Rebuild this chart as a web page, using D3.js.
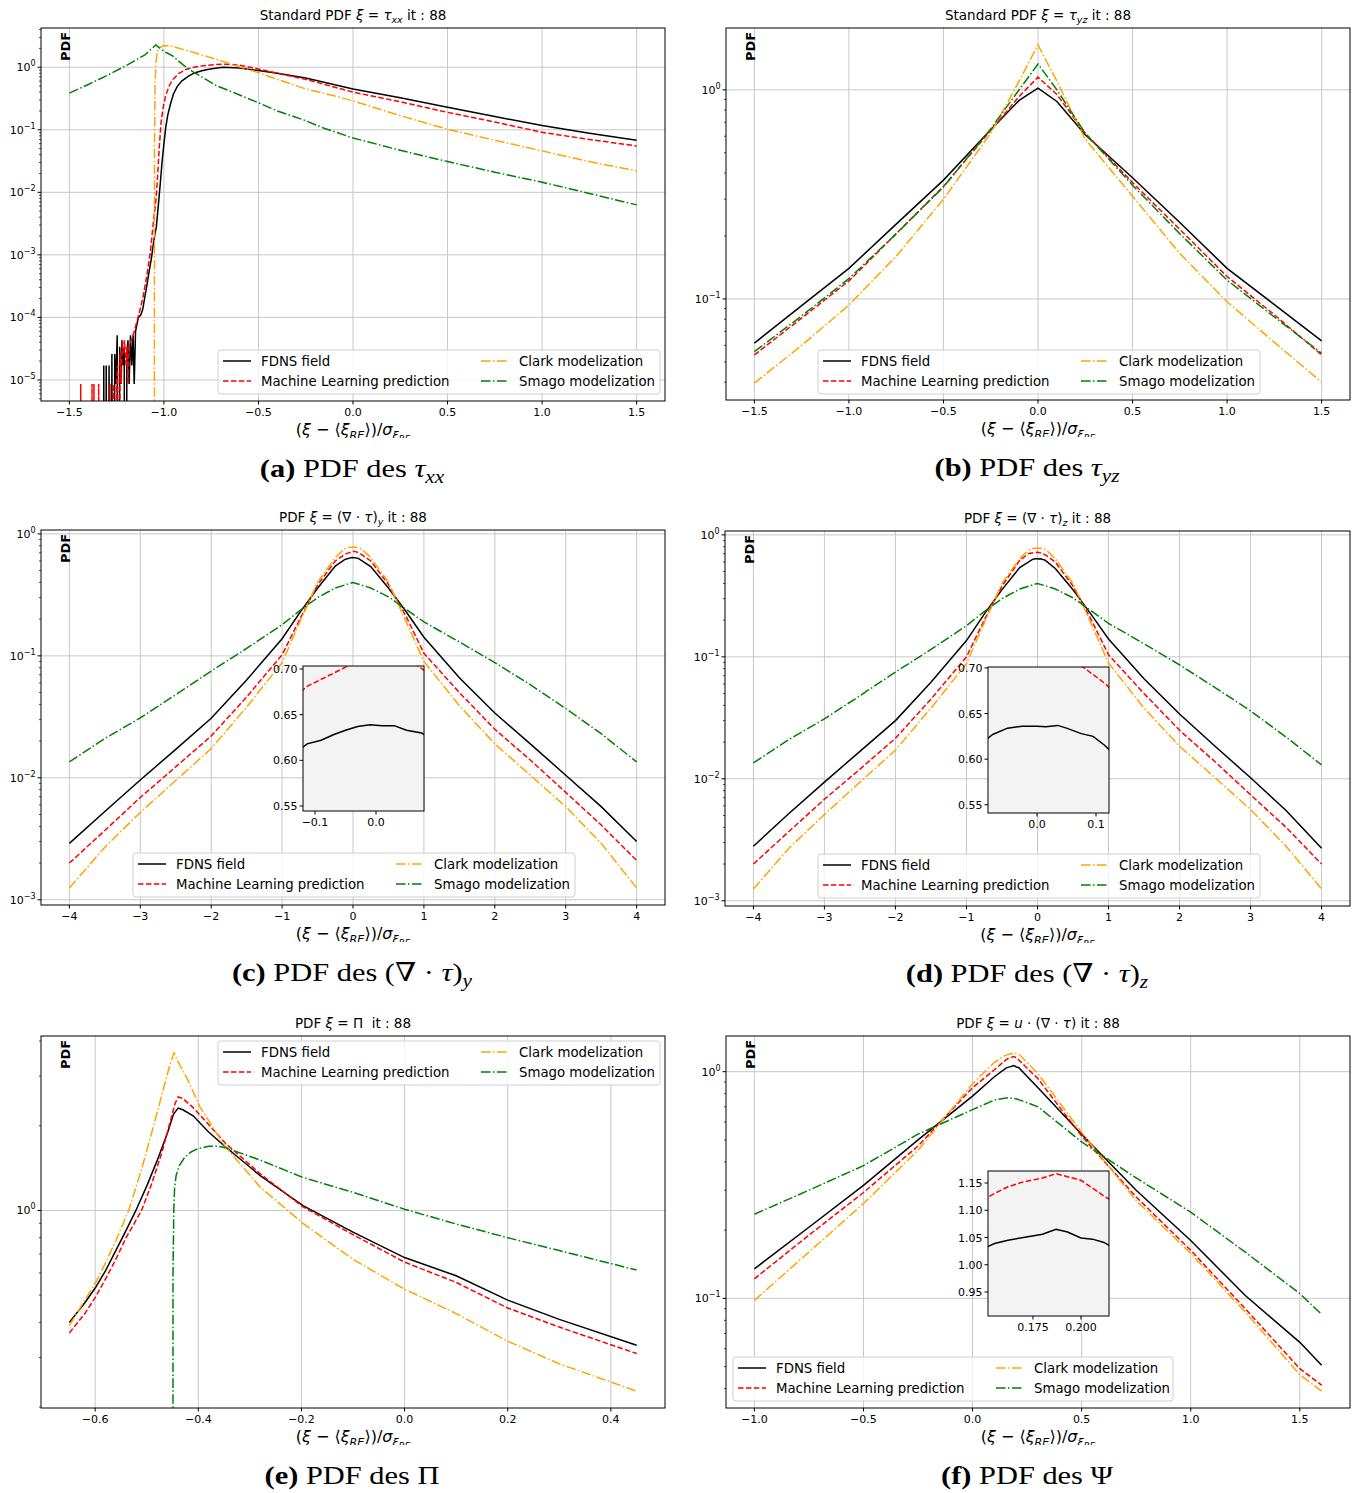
<!DOCTYPE html>
<html><head><meta charset="utf-8">
<script src="https://cdn.jsdelivr.net/npm/d3@7"></script>
<style>body{margin:0;background:#fff}svg{display:block}</style>
</head><body>
<svg id="fig" width="1360" height="1493"></svg>
<script>
// ---------------- DATA ----------------
const seriesLabels = ["FDNS field","Machine Learning prediction","Clark modelization","Smago modelization"];

// (a) tau_xx
const tauxxFDNS = [[-1.325,0],[-1.318,1.7e-5],[-1.312,0],[-1.305,1.7e-5],[-1.298,0],[-1.29,1.7e-5],[-1.283,0],[-1.275,2.6e-5],[-1.268,0],[-1.26,2.6e-5],[-1.254,8.6e-6],[-1.247,5.2e-5],[-1.241,0],[-1.234,3.4e-5],[-1.228,8.6e-6],[-1.222,4.3e-5],[-1.216,1.7e-5],[-1.21,3.4e-5],[-1.203,0],[-1.196,2.6e-5],[-1.19,4.3e-5],[-1.184,8.6e-6],[-1.177,5.2e-5],[-1.17,1.7e-5],[-1.163,5.2e-5],[-1.157,8.6e-6],[-1.15,6.0e-5],[-1.135,1.0e-4],[-1.122,1.1e-4],[-1.112,1.35e-4],[-1.1,2.2e-4],[-1.089,3.4e-4],[-1.078,5.5e-4],[-1.066,8.9e-4],[-1.057,1.4e-3],[-1.048,2.1e-3],[-1.04,2.8e-3],[-1.03,6e-3],[-1.02,0.013],[-1.01,0.03],[-1.0,0.06],[-0.99,0.11],[-0.98,0.17],[-0.965,0.26],[-0.95,0.37],[-0.93,0.49],[-0.906,0.6],[-0.87,0.72],[-0.838,0.81],[-0.8,0.88],[-0.769,0.92],[-0.72,0.97],[-0.685,1.0],[-0.6,0.97],[-0.5,0.885],[-0.4,0.8],[-0.25,0.67],[0,0.45],[0.25,0.325],[0.5,0.23],[0.75,0.163],[1.0,0.117],[1.25,0.088],[1.5,0.068]];
const tauxxML = [[-1.445,0],[-1.44,8.6e-6],[-1.435,0],[-1.385,0],[-1.38,8.6e-6],[-1.375,0],[-1.37,8.6e-6],[-1.365,0],[-1.35,0],[-1.345,8.6e-6],[-1.34,0],[-1.29,0],[-1.285,8.6e-6],[-1.28,0],[-1.265,8.6e-6],[-1.26,0],[-1.25,8.6e-6],[-1.245,1.7e-5],[-1.24,0],[-1.232,2.6e-5],[-1.226,8.6e-6],[-1.22,4.3e-5],[-1.214,2.6e-5],[-1.208,4.3e-5],[-1.2,1.7e-5],[-1.195,3.4e-5],[-1.19,8.6e-6],[-1.185,3.4e-5],[-1.18,3.7e-5],[-1.157,6e-5],[-1.135,1.05e-4],[-1.112,2e-4],[-1.089,4.9e-4],[-1.071,1.15e-3],[-1.055,3.5e-3],[-1.043,7.2e-3],[-1.035,0.015],[-1.025,0.05],[-1.015,0.13],[-1.005,0.22],[-0.99,0.36],[-0.97,0.52],[-0.952,0.64],[-0.92,0.8],[-0.884,0.92],[-0.84,1.0],[-0.792,1.06],[-0.73,1.1],[-0.678,1.12],[-0.6,1.08],[-0.5,0.94],[-0.4,0.8],[-0.25,0.64],[0,0.40],[0.25,0.28],[0.5,0.19],[0.75,0.133],[1.0,0.091],[1.25,0.07],[1.5,0.055]];
const tauxxClark = [[-1.0505,0],[-1.05,0.05],[-1.047,0.5],[-1.042,1.2],[-1.035,1.75],[-1.025,2.05],[-1.0,2.22],[-0.97,2.2],[-0.93,2.05],[-0.87,1.82],[-0.8,1.58],[-0.7,1.27],[-0.6,1.02],[-0.5,0.82],[-0.4,0.64],[-0.25,0.45],[-0.1,0.35],[0,0.29],[0.25,0.168],[0.5,0.102],[0.75,0.068],[1.0,0.046],[1.25,0.031],[1.5,0.022]];
const tauxxSmago = [[-1.5,0.385],[-1.4,0.53],[-1.3,0.74],[-1.2,1.06],[-1.1,1.58],[-1.043,2.27],[-1.0,1.8],[-0.952,1.5],[-0.9,1.1],[-0.85,0.86],[-0.8,0.7],[-0.724,0.51],[-0.6,0.36],[-0.495,0.266],[-0.4,0.2],[-0.267,0.146],[-0.15,0.105],[0,0.074],[0.25,0.047],[0.5,0.031],[0.75,0.021],[1.0,0.0145],[1.25,0.0096],[1.5,0.0063]];

// (b) tau_yz
const tauyzFDNS = [[-1.5,0.0615],[-1.25,0.093],[-1.0,0.14],[-0.75,0.228],[-0.5,0.37],[-0.25,0.645],[-0.1,0.89],[0,1.02],[0.1,0.88],[0.25,0.61],[0.5,0.38],[0.75,0.232],[1.0,0.14],[1.25,0.094],[1.5,0.063]];
const tauyzML = [[-1.5,0.054],[-1.25,0.081],[-1.0,0.122],[-0.75,0.205],[-0.5,0.345],[-0.25,0.64],[-0.1,0.93],[0,1.15],[0.1,0.95],[0.25,0.62],[0.5,0.36],[0.75,0.215],[1.0,0.128],[1.25,0.084],[1.5,0.054]];
const tauyzClark = [[-1.5,0.0396],[-1.25,0.06],[-1.0,0.0935],[-0.75,0.16],[-0.5,0.30],[-0.25,0.62],[-0.1,1.1],[0,1.64],[0.1,1.1],[0.25,0.58],[0.5,0.31],[0.75,0.165],[1.0,0.097],[1.25,0.062],[1.5,0.04]];
const tauyzSmago = [[-1.5,0.056],[-1.25,0.083],[-1.0,0.125],[-0.75,0.205],[-0.5,0.343],[-0.25,0.65],[-0.1,1.0],[0,1.33],[0.1,1.0],[0.25,0.62],[0.5,0.35],[0.75,0.205],[1.0,0.123],[1.25,0.082],[1.5,0.055]];

// (c) (div tau)_y
const divyFDNS = [[-4,0.0029],[-3.5,0.0053],[-3,0.0096],[-2.5,0.0171],[-2,0.0308],[-1.5,0.0634],[-1,0.138],[-0.75,0.226],[-0.5,0.358],[-0.25,0.545],[-0.113,0.618],[-0.09,0.622],[-0.07,0.628],[-0.05,0.633],[-0.03,0.637],[-0.01,0.639],[0.01,0.638],[0.03,0.638],[0.05,0.633],[0.075,0.630],[0.25,0.54],[0.5,0.36],[0.75,0.23],[1,0.142],[1.5,0.066],[2,0.034],[2.5,0.019],[3,0.0105],[3.5,0.0058],[4,0.0030]];
const divyML = [[-4,0.002],[-3.5,0.0037],[-3,0.0069],[-2.5,0.0123],[-2,0.022],[-1.5,0.046],[-1,0.102],[-0.75,0.2],[-0.5,0.38],[-0.25,0.6],[-0.113,0.681],[-0.08,0.692],[-0.05,0.702],[0,0.72],[0.05,0.712],[0.076,0.70],[0.1,0.69],[0.25,0.6],[0.5,0.385],[0.75,0.21],[1,0.105],[1.5,0.05],[2,0.025],[2.5,0.014],[3,0.0076],[3.5,0.0041],[4,0.0021]];
const divyClark = [[-4,0.00125],[-3.5,0.0027],[-3,0.0052],[-2.5,0.0095],[-2,0.0174],[-1.5,0.038],[-1,0.088],[-0.75,0.19],[-0.5,0.4],[-0.25,0.64],[-0.12,0.755],[-0.06,0.775],[0,0.78],[0.06,0.775],[0.12,0.755],[0.25,0.64],[0.5,0.4],[0.75,0.19],[1,0.09],[1.5,0.039],[2,0.019],[2.5,0.0105],[3,0.0058],[3.5,0.0029],[4,0.00125]];
const divySmago = [[-4,0.0135],[-3.5,0.021],[-3,0.031],[-2.5,0.048],[-2,0.075],[-1.5,0.115],[-1,0.18],[-0.75,0.235],[-0.5,0.3],[-0.25,0.36],[0,0.40],[0.25,0.36],[0.5,0.305],[0.75,0.24],[1,0.19],[1.5,0.13],[2,0.088],[2.5,0.058],[3,0.037],[3.5,0.023],[4,0.0135]];

// (d) (div tau)_z
const divzFDNS = [[-4,0.0028],[-3.5,0.0052],[-3,0.0094],[-2.5,0.0168],[-2,0.030],[-1.5,0.062],[-1,0.136],[-0.75,0.224],[-0.5,0.356],[-0.25,0.54],[-0.075,0.627],[-0.05,0.634],[-0.025,0.636],[0,0.636],[0.015,0.6355],[0.035,0.637],[0.05,0.634],[0.075,0.628],[0.095,0.625],[0.115,0.615],[0.25,0.53],[0.5,0.355],[0.75,0.225],[1,0.14],[1.5,0.066],[2,0.034],[2.5,0.0185],[3,0.0102],[3.5,0.0055],[4,0.0027]];
const divzML = [[-4,0.002],[-3.5,0.0037],[-3,0.0068],[-2.5,0.012],[-2,0.0215],[-1.5,0.045],[-1,0.10],[-0.75,0.2],[-0.5,0.38],[-0.25,0.62],[-0.12,0.705],[0,0.72],[0.05,0.712],[0.08,0.70],[0.115,0.683],[0.25,0.6],[0.5,0.38],[0.75,0.205],[1,0.104],[1.5,0.05],[2,0.025],[2.5,0.0138],[3,0.0074],[3.5,0.004],[4,0.002]];
const divzClark = [[-4,0.00125],[-3.5,0.0027],[-3,0.0051],[-2.5,0.0094],[-2,0.0172],[-1.5,0.038],[-1,0.088],[-0.75,0.19],[-0.5,0.4],[-0.25,0.64],[-0.12,0.755],[-0.06,0.775],[0,0.78],[0.06,0.775],[0.12,0.755],[0.25,0.64],[0.5,0.4],[0.75,0.19],[1,0.089],[1.5,0.038],[2,0.0185],[2.5,0.0102],[3,0.0056],[3.5,0.0028],[4,0.00125]];
const divzSmago = [[-4,0.0135],[-3.5,0.021],[-3,0.031],[-2.5,0.048],[-2,0.075],[-1.5,0.115],[-1,0.18],[-0.75,0.235],[-0.5,0.3],[-0.25,0.36],[0,0.40],[0.25,0.36],[0.5,0.305],[0.75,0.24],[1,0.188],[1.5,0.128],[2,0.086],[2.5,0.056],[3,0.036],[3.5,0.022],[4,0.013]];

// (e) Pi
const piFDNS = [[-0.65,0.40],[-0.62,0.47],[-0.6,0.53],[-0.58,0.61],[-0.56,0.72],[-0.54,0.85],[-0.521,1.0],[-0.5,1.22],[-0.48,1.5],[-0.46,1.88],[-0.448,2.2],[-0.439,2.31],[-0.43,2.28],[-0.41,2.17],[-0.38,1.9],[-0.347,1.68],[-0.28,1.33],[-0.197,1.04],[-0.1,0.837],[0,0.68],[0.1,0.586],[0.2,0.48],[0.3,0.41],[0.45,0.332]];
const piML = [[-0.65,0.367],[-0.62,0.43],[-0.6,0.49],[-0.58,0.57],[-0.56,0.67],[-0.54,0.8],[-0.51,1.0],[-0.49,1.25],[-0.47,1.62],[-0.455,2.05],[-0.445,2.4],[-0.439,2.53],[-0.43,2.5],[-0.41,2.32],[-0.38,2.02],[-0.347,1.73],[-0.28,1.35],[-0.197,1.03],[-0.1,0.82],[0,0.655],[0.1,0.555],[0.2,0.45],[0.3,0.385],[0.45,0.31]];
const piClark = [[-0.65,0.39],[-0.62,0.48],[-0.6,0.55],[-0.58,0.65],[-0.56,0.78],[-0.535,1.0],[-0.51,1.4],[-0.49,1.9],[-0.47,2.6],[-0.455,3.3],[-0.447,3.63],[-0.44,3.4],[-0.42,2.9],[-0.397,2.34],[-0.37,1.95],[-0.347,1.68],[-0.28,1.21],[-0.197,0.9],[-0.1,0.67],[0,0.525],[0.1,0.43],[0.2,0.343],[0.3,0.285],[0.45,0.228]];
const piSmago = [[-0.4495,0],[-0.449,0.6],[-0.4475,1.0],[-0.446,1.2],[-0.443,1.33],[-0.437,1.44],[-0.428,1.53],[-0.415,1.61],[-0.4,1.66],[-0.38,1.69],[-0.36,1.69],[-0.347,1.67],[-0.28,1.51],[-0.197,1.31],[-0.1,1.16],[0,1.01],[0.1,0.895],[0.2,0.8],[0.3,0.72],[0.45,0.614]];

// (f) Psi
const psiFDNS = [[-1,0.135],[-0.75,0.206],[-0.5,0.315],[-0.25,0.5],[0,0.78],[0.1,0.95],[0.155,1.039],[0.162,1.045],[0.17,1.05],[0.18,1.056],[0.187,1.065],[0.193,1.06],[0.2,1.049],[0.206,1.047],[0.212,1.041],[0.3,0.85],[0.5,0.53],[0.75,0.3],[1,0.18],[1.25,0.103],[1.5,0.064],[1.6,0.0507]];
const psiML = [[-1,0.122],[-0.75,0.19],[-0.5,0.293],[-0.25,0.47],[0,0.85],[0.1,1.02],[0.155,1.131],[0.162,1.143],[0.17,1.152],[0.18,1.159],[0.187,1.167],[0.2,1.155],[0.212,1.126],[0.3,0.93],[0.5,0.52],[0.75,0.28],[1,0.163],[1.25,0.09],[1.5,0.049],[1.6,0.0414]];
const psiClark = [[-1,0.098],[-0.75,0.16],[-0.5,0.262],[-0.25,0.45],[0,0.885],[0.1,1.1],[0.15,1.18],[0.19,1.21],[0.215,1.19],[0.3,0.98],[0.5,0.54],[0.75,0.27],[1,0.158],[1.25,0.087],[1.5,0.046],[1.6,0.039]];
const psiSmago = [[-1,0.235],[-0.75,0.3],[-0.5,0.385],[-0.25,0.53],[0,0.68],[0.1,0.75],[0.154,0.766],[0.2,0.76],[0.3,0.7],[0.5,0.49],[0.75,0.34],[1,0.24],[1.25,0.16],[1.5,0.105],[1.6,0.085]];

// tick values
const ticksA = [-1.5,-1.0,-0.5,0.0,0.5,1.0,1.5];
const ticksC = [-4,-3,-2,-1,0,1,2,3,4];
const ticksE = [-0.6,-0.4,-0.2,0.0,0.2,0.4];
const ticksF = [-1.0,-0.5,0.0,0.5,1.0,1.5];
const insetYTicksC = [0.55,0.60,0.65,0.70];
const insetXTicksC = [-0.1,0.0];
const insetXTicksD = [0.0,0.1];
const insetYTicksF = [0.95,1.00,1.05,1.10,1.15];
const insetXTicksF = [0.175,0.200];

// ---------------- DRAWING ----------------
const svg = d3.select("#fig");
const defs = svg.append("defs");
const SANS = "DejaVu Sans, sans-serif";
const SERIF = "Liberation Serif, DejaVu Serif, serif";
const styles = [
  {color:"#000000", dash:null},
  {color:"#ff0000", dash:"5.5,2.4"},
  {color:"#ffa500", dash:"9.6,2.4,1.5,2.4"},
  {color:"#008000", dash:"9.6,2.4,1.5,2.4"}
];

function rich(parent, x, y, parts, o) {
  const t = parent.append("text").attr("x", x).attr("y", y)
    .attr("font-family", o.family).attr("font-size", o.size)
    .attr("text-anchor", o.anchor || "middle").attr("fill", "#000")
    .style("white-space", "pre");
  let cur = 0;
  parts.forEach(p => {
    const lv = p.s || 0;
    const off = [0, 0.25, 0.45][lv] * o.size;
    const sc = [1, 0.7, 0.55][lv];
    const ts = t.append("tspan").text(p.t).attr("font-size", o.size * sc);
    if (off !== cur) ts.attr("dy", off - cur);
    cur = off;
    if (p.i) ts.attr("font-style", "italic");
    if (p.b) ts.attr("font-weight", "bold");
  });
  return t;
}

const xlabelParts = [{t:"("},{t:"ξ",i:1},{t:" − ⟨"},{t:"ξ",i:1},{t:"RE",i:1,s:1},{t:"⟩)/"},{t:"σ",i:1},{t:"ξ",i:1,s:1},{t:"RE",i:1,s:2}];

function drawPanel(P) {
  const g = svg.append("g");
  const all = P.series.flat();
  const [x0, x1] = d3.extent(all, d => d[0]);
  const mx = (x1 - x0) * 0.05;
  const logs = all.filter(d => d[1] > 0).map(d => Math.log10(d[1]));
  const [l0, l1] = d3.extent(logs);
  const my = (l1 - l0) * 0.05;
  const x = d3.scaleLinear().domain([x0 - mx, x1 + mx]).range([P.left, P.right]);
  const y = d3.scaleLog().domain([10 ** (l0 - my), 10 ** (l1 + my)]).range([P.bottom, P.top]);

  const cid = "clip" + P.key;
  defs.append("clipPath").attr("id", cid).append("rect")
    .attr("x", P.left).attr("y", P.top).attr("width", P.right - P.left).attr("height", P.bottom - P.top);

  // grid
  P.xTicks.forEach(v => g.append("line").attr("x1", x(v)).attr("x2", x(v)).attr("y1", P.top).attr("y2", P.bottom)
    .attr("stroke", "#c8c8c8").attr("stroke-width", 1));
  const majors = [];
  for (let k = Math.floor(l0 - my); k <= Math.ceil(l1 + my); k++) {
    const v = 10 ** k;
    if (v >= y.domain()[0] && v <= y.domain()[1]) majors.push(k);
  }
  majors.forEach(k => g.append("line").attr("x1", P.left).attr("x2", P.right).attr("y1", y(10 ** k)).attr("y2", y(10 ** k))
    .attr("stroke", "#c8c8c8").attr("stroke-width", 1));

  // series
  const line = d3.line().x(d => x(d[0])).y(d => d[1] > 0 ? y(d[1]) : P.bottom + 600);
  const lg = g.append("g").attr("clip-path", `url(#${cid})`);
  P.series.forEach((s, i) => {
    lg.append("path").attr("d", line(s)).attr("fill", "none").attr("stroke", styles[i].color)
      .attr("stroke-width", 1.5).attr("stroke-dasharray", styles[i].dash);
  });

  // spines
  g.append("rect").attr("x", P.left).attr("y", P.top).attr("width", P.right - P.left).attr("height", P.bottom - P.top)
    .attr("fill", "none").attr("stroke", "#000").attr("stroke-width", 1);

  // x ticks
  const xf = d3.format(P.xFmt);
  P.xTicks.forEach(v => {
    g.append("line").attr("x1", x(v)).attr("x2", x(v)).attr("y1", P.bottom).attr("y2", P.bottom + 3.5).attr("stroke", "#000");
    g.append("text").attr("x", x(v)).attr("y", P.bottom + 15).attr("text-anchor", "middle")
      .attr("font-family", SANS).attr("font-size", 11).text(xf(v));
  });
  // y ticks
  majors.forEach(k => {
    const yy = y(10 ** k);
    g.append("line").attr("x1", P.left - 3.5).attr("x2", P.left).attr("y1", yy).attr("y2", yy).attr("stroke", "#000");
    const t = g.append("text").attr("x", P.left - 5.5).attr("y", yy + 4).attr("text-anchor", "end")
      .attr("font-family", SANS).attr("font-size", 11);
    t.append("tspan").text("10");
    t.append("tspan").attr("dy", -5).attr("font-size", 8).text(k < 0 ? "−" + (-k) : String(k));
  });
  for (let k = Math.floor(l0 - my); k <= Math.ceil(l1 + my); k++) {
    for (let m = 2; m <= 9; m++) {
      const v = m * 10 ** k;
      if (v >= y.domain()[0] && v <= y.domain()[1]) {
        g.append("line").attr("x1", P.left - 2).attr("x2", P.left).attr("y1", y(v)).attr("y2", y(v)).attr("stroke", "#000").attr("stroke-width", 0.7);
      }
    }
  }

  // PDF label
  g.append("text").attr("transform", `translate(${P.left + 29},${P.top + 18.5}) rotate(-90)`)
    .attr("text-anchor", "middle").attr("font-family", SANS).attr("font-weight", "bold").attr("font-size", 13).text("PDF");

  // title
  const cx = (P.left + P.right) / 2;
  rich(g, cx, P.top - 8, P.title, {family: SANS, size: 13.5});
  // x label (bottom cut like reference)
  const lcid = "lclip" + P.key;
  defs.append("clipPath").attr("id", lcid).append("rect")
    .attr("x", P.left).attr("y", P.bottom + 17).attr("width", P.right - P.left).attr("height", 20);
  const lgp = g.append("g").attr("clip-path", `url(#${lcid})`);
  rich(lgp, cx, P.bottom + 34, xlabelParts, {family: SANS, size: 16});
  // caption (Computer-Modern-like width via horizontal stretch)
  const capG = g.append("g").attr("transform", `translate(${P.capX},0) scale(1.17,1) translate(${-P.capX},0)`);
  rich(capG, P.capX, P.bottom + 76, P.caption, {family: SERIF, size: 26});

  // inset
  if (P.inset) {
    const I = P.inset;
    const ix = d3.scaleLinear().domain(I.xDomain).range([I.x0, I.x1]);
    const iy = d3.scaleLinear().domain(I.yDomain).range([I.y1, I.y0]);
    const ig = svg.append("g");
    ig.append("rect").attr("x", I.x0).attr("y", I.y0).attr("width", I.x1 - I.x0).attr("height", I.y1 - I.y0).attr("fill", "#f3f3f3");
    const icid = "iclip" + P.key;
    defs.append("clipPath").attr("id", icid).append("rect")
      .attr("x", I.x0).attr("y", I.y0).attr("width", I.x1 - I.x0).attr("height", I.y1 - I.y0);
    const iline = d3.line().x(d => ix(d[0])).y(d => iy(d[1]));
    const il = ig.append("g").attr("clip-path", `url(#${icid})`);
    P.series.forEach((s, i) => {
      il.append("path").attr("d", iline(s.filter(d => d[1] > 0))).attr("fill", "none").attr("stroke", styles[i].color)
        .attr("stroke-width", 1.5).attr("stroke-dasharray", styles[i].dash);
    });
    ig.append("rect").attr("x", I.x0).attr("y", I.y0).attr("width", I.x1 - I.x0).attr("height", I.y1 - I.y0)
      .attr("fill", "none").attr("stroke", "#000").attr("stroke-width", 1);
    const ixf = d3.format(I.xFmt), iyf = d3.format(".2f");
    I.xTicks.forEach(v => {
      ig.append("line").attr("x1", ix(v)).attr("x2", ix(v)).attr("y1", I.y1).attr("y2", I.y1 + 3.5).attr("stroke", "#000");
      ig.append("text").attr("x", ix(v)).attr("y", I.y1 + 15).attr("text-anchor", "middle")
        .attr("font-family", SANS).attr("font-size", 11).text(ixf(v));
    });
    I.yTicks.forEach(v => {
      ig.append("line").attr("x1", I.x0 - 3.5).attr("x2", I.x0).attr("y1", iy(v)).attr("y2", iy(v)).attr("stroke", "#000");
      ig.append("text").attr("x", I.x0 - 5.5).attr("y", iy(v) + 4).attr("text-anchor", "end")
        .attr("font-family", SANS).attr("font-size", 11).text(iyf(v));
    });
  }

  // legend
  const [lx, ly] = P.legend;
  const leg = svg.append("g");
  leg.append("rect").attr("x", lx).attr("y", ly).attr("width", P.legendW || 442).attr("height", 44).attr("rx", 3)
    .attr("fill", "#fff").attr("fill-opacity", 0.8).attr("stroke", "#d0d0d0");
  seriesLabels.forEach((lab, i) => {
    const col = Math.floor(i / 2), row = i % 2;
    const bx = lx + col * 258, by = ly + 11 + row * 20;
    leg.append("line").attr("x1", bx + 5).attr("x2", bx + 33).attr("y1", by).attr("y2", by)
      .attr("stroke", styles[i].color).attr("stroke-width", 1.5).attr("stroke-dasharray", styles[i].dash);
    leg.append("text").attr("x", bx + 43).attr("y", by + 4.7).attr("font-family", SANS).attr("font-size", 13.3).text(lab);
  });
}

const panels = [
  {key:"a", left:41, right:665, top:28, bottom:401, xTicks:ticksA, xFmt:".1f", capX:352,
   series:[tauxxFDNS, tauxxML, tauxxClark, tauxxSmago], legend:[218,350],
   title:[{t:"Standard PDF "},{t:"ξ",i:1},{t:" = "},{t:"τ",i:1},{t:"xx",i:1,s:1},{t:" it : 88"}],
   caption:[{t:"(a)",b:1},{t:" PDF des "},{t:"τ",i:1},{t:"xx",i:1,s:1}]},
  {key:"b", left:726, right:1350, top:28, bottom:400, xTicks:ticksA, xFmt:".1f", capX:1027,
   series:[tauyzFDNS, tauyzML, tauyzClark, tauyzSmago], legend:[818,350],
   title:[{t:"Standard PDF "},{t:"ξ",i:1},{t:" = "},{t:"τ",i:1},{t:"yz",i:1,s:1},{t:" it : 88"}],
   caption:[{t:"(b)",b:1},{t:" PDF des "},{t:"τ",i:1},{t:"yz",i:1,s:1}]},
  {key:"c", left:41, right:665, top:530, bottom:905, xTicks:ticksC, xFmt:"d", capX:352,
   series:[divyFDNS, divyML, divyClark, divySmago], legend:[133,853],
   title:[{t:"PDF "},{t:"ξ",i:1},{t:" = (∇ · "},{t:"τ",i:1},{t:")"},{t:"y",i:1,s:1},{t:" it : 88"}],
   caption:[{t:"(c)",b:1},{t:" PDF des (∇ · "},{t:"τ",i:1},{t:")"},{t:"y",i:1,s:1}],
   inset:{x0:303,x1:424,y0:666,y1:811,xDomain:[-0.1197,0.0787],yDomain:[0.5445,0.7033],xTicks:insetXTicksC,yTicks:insetYTicksC,xFmt:".1f"}},
  {key:"d", left:725, right:1350, top:531, bottom:906, xTicks:ticksC, xFmt:"d", capX:1027,
   series:[divzFDNS, divzML, divzClark, divzSmago], legend:[818,854],
   title:[{t:"PDF "},{t:"ξ",i:1},{t:" = (∇ · "},{t:"τ",i:1},{t:")"},{t:"z",i:1,s:1},{t:" it : 88"}],
   caption:[{t:"(d)",b:1},{t:" PDF des (∇ · "},{t:"τ",i:1},{t:")"},{t:"z",i:1,s:1}],
   inset:{x0:988,x1:1109,y0:667,y1:813,xDomain:[-0.083,0.122],yDomain:[0.541,0.701],xTicks:insetXTicksD,yTicks:insetYTicksC,xFmt:".1f"}},
  {key:"e", left:41, right:665, top:1036, bottom:1408, xTicks:ticksE, xFmt:".1f", capX:352,
   series:[piFDNS, piML, piClark, piSmago], legend:[218,1041],
   title:[{t:"PDF "},{t:"ξ",i:1},{t:" = Π  it : 88"}],
   caption:[{t:"(e)",b:1},{t:" PDF des Π"}]},
  {key:"f", left:726, right:1350, top:1036, bottom:1408, xTicks:ticksF, xFmt:".1f", capX:1027,
   series:[psiFDNS, psiML, psiClark, psiSmago], legend:[733,1357], legendW:440,
   title:[{t:"PDF "},{t:"ξ",i:1},{t:" = "},{t:"u",i:1},{t:" · (∇ · "},{t:"τ",i:1},{t:") it : 88"}],
   caption:[{t:"(f)",b:1},{t:" PDF des Ψ"}],
   inset:{x0:988,x1:1109,y0:1171,y1:1316,xDomain:[0.1516,0.2146],yDomain:[0.906,1.172],xTicks:insetXTicksF,yTicks:insetYTicksF,xFmt:".3f"}}
];
panels.forEach(drawPanel);
</script>
</body></html>
